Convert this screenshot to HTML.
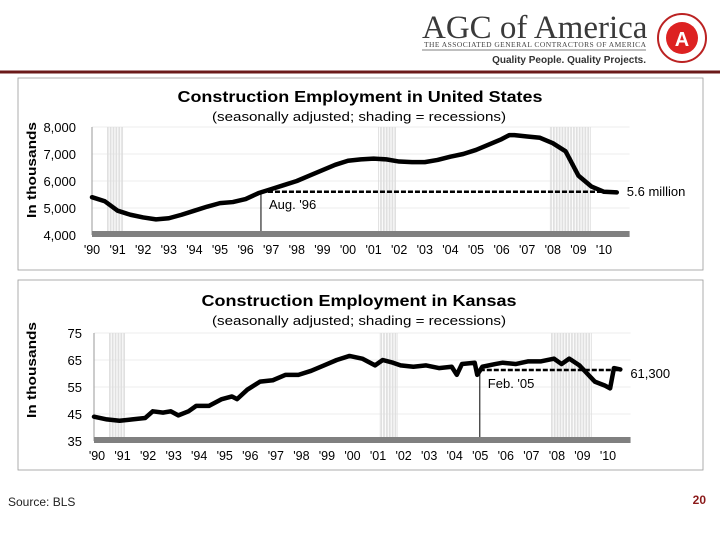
<!DOCTYPE html>
<html><head><meta charset="utf-8"><style>
body{margin:0;width:720px;height:540px;background:#fff;font-family:"Liberation Sans",sans-serif;overflow:hidden;position:relative}
svg{position:absolute;left:0;top:0}
</style></head><body>
<svg width="720" height="540">
<g>
<text x="422" y="38" font-family="Liberation Serif,serif" font-size="33" fill="#3a3a3a">AGC of America</text>
<text x="424" y="47" font-family="Liberation Serif,serif" font-size="7.5" fill="#444" textLength="222">THE ASSOCIATED GENERAL CONTRACTORS OF AMERICA</text>
<line x1="422" y1="50" x2="646" y2="50" stroke="#555" stroke-width="0.8"/>
<text x="646" y="63" text-anchor="end" font-size="10" font-weight="bold" fill="#333">Quality People. Quality Projects.</text>
<circle cx="682" cy="38" r="24" fill="#fff" stroke="#b22" stroke-width="2"/>
<circle cx="682" cy="38" r="16" fill="#d22"/>
<text x="682" y="46" text-anchor="middle" font-size="20" font-weight="bold" fill="#fff">A</text>
<line x1="0" y1="72" x2="720" y2="72" stroke="#6b1a1a" stroke-width="3"/>
</g>
<rect x="18" y="78" width="685" height="192" fill="none" stroke="#999" stroke-width="0.8"/>
<rect x="18" y="280" width="685" height="190" fill="none" stroke="#999" stroke-width="0.8"/>
<g id="us"></g>
<g id="ks"></g>
<text x="8" y="506" font-size="12" fill="#222">Source: BLS</text>
<text x="706" y="504" text-anchor="end" font-size="12" font-weight="bold" fill="#8b1a1a">20</text>
</svg>
<script>
const years=['\'90','\'91','\'92','\'93','\'94','\'95','\'96','\'97','\'98','\'99','\'00','\'01','\'02','\'03','\'04','\'05','\'06','\'07','\'08','\'09','\'10'];
const recessions=[[1990.6,1991.2],[2001.2,2001.9],[2007.9,2009.5]];
const usT=[1990,1990.5,1991,1991.5,1992,1992.5,1993,1993.5,1994,1994.5,1995,1995.5,1996,1996.5,1997,1997.5,1998,1998.5,1999,1999.5,2000,2000.5,2001,2001.5,2002,2002.5,2003,2003.5,2004,2004.5,2005,2005.5,2006,2006.3,2006.5,2007,2007.5,2008,2008.5,2009,2009.5,2010,2010.5];
const usV=[5400,5250,4900,4750,4650,4580,4620,4750,4900,5050,5180,5220,5330,5550,5700,5850,6000,6200,6400,6600,6750,6800,6830,6800,6720,6700,6700,6780,6900,7000,7150,7350,7550,7700,7700,7650,7600,7400,7100,6200,5800,5600,5580];
const usTicks=['8,000','7,000','6,000','5,000','4,000'];
const usTickVals=[8000,7000,6000,5000,4000];
const ksT=[1990,1990.5,1991,1991.5,1992,1992.3,1992.7,1993,1993.3,1993.7,1994,1994.5,1995,1995.4,1995.6,1996,1996.5,1997,1997.5,1998,1998.5,1999,1999.5,2000,2000.5,2001,2001.3,2001.7,2002,2002.5,2003,2003.5,2004,2004.2,2004.4,2004.9,2005,2005.2,2005.7,2006,2006.5,2007,2007.5,2008,2008.3,2008.6,2009,2009.3,2009.6,2010,2010.2,2010.35,2010.6];
const ksV=[44,43,42.5,43,43.5,46,45.5,46,44.5,46,48,48,50.5,51.5,50.5,54,57,57.5,59.5,59.5,61,63,65,66.5,65.5,63,65,64,63,62.5,63,62,62.5,59.5,63.5,64,59.5,62.5,63.5,64,63.5,64.5,64.5,65.5,63.5,65.5,63,60,57,55.5,54.5,62,61.5];
const ksTicks=['75','65','55','45','35'];
const ksTickVals=[75,65,55,45,35];
const NS='http://www.w3.org/2000/svg';
function mk(p,tag,a,txt){const e=document.createElementNS(NS,tag);for(const k in a)e.setAttribute(k,a[k]);if(txt!=null)e.textContent=txt;p.appendChild(e);return e;}
function chart(g,o){
  const x=t=>o.x0+(t-1990)*o.dx, y=v=>o.y0+(o.vmax-v)*o.py;
  let e=mk(g,'text',{x:o.cx,y:o.ty,'text-anchor':'middle','font-size':16,'font-weight':'bold',fill:'#000',textLength:o.tl,lengthAdjust:'spacingAndGlyphs'},o.title);
  
  
  e=mk(g,'text',{x:359,y:o.ty+19,'text-anchor':'middle','font-size':13,fill:'#000',textLength:294,lengthAdjust:'spacingAndGlyphs'},'(seasonally adjusted; shading = recessions)');
  
  
  e=mk(g,'text',{x:0,y:0,transform:`translate(${o.ylx},${o.yly}) rotate(-90)`,'text-anchor':'middle','font-size':13,'font-weight':'bold',fill:'#000',textLength:96,lengthAdjust:'spacingAndGlyphs'},'In thousands');
  
  
  const ybot=y(o.tickVals[o.tickVals.length-1]);
  recessions.forEach(r=>{for(let t=r[0];t<=r[1];t+=0.06){e=mk(g,'line',{x1:x(t),x2:x(t),y1:y(o.tickVals[0]),y2:ybot,stroke:'#ccc','stroke-width':0.6});
  
  }});
  o.tickVals.forEach((v,i)=>{
    if(i<o.tickVals.length-1){e=mk(g,'line',{x1:x(1990),x2:x(2011),y1:y(v),y2:y(v),stroke:'#ddd','stroke-width':0.6});
    
    }
    e=mk(g,'text',{x:o.tlx,y:y(v)+5,'text-anchor':'end','font-size':13,fill:'#000'},o.ticks[i]);
    
    
  });
  e=mk(g,'line',{x1:x(1990),x2:x(1990),y1:y(o.tickVals[0]),y2:ybot,stroke:'#999','stroke-width':1});
  
  
  e=mk(g,'rect',{x:x(1990),y:ybot-4,width:x(2011)-x(1990),height:6,fill:'#808080'});
  
  
  years.forEach((s,i)=>{e=mk(g,'text',{x:x(1990+i)+o.lo,y:ybot+19,'text-anchor':'middle','font-size':12.5,fill:'#000'},s);
  
  });
  e=mk(g,'line',{x1:x(o.refT),x2:x(o.refT),y1:y(o.refV),y2:ybot-4,stroke:'#000','stroke-width':1});
  
  
  e=mk(g,'line',{x1:x(o.refT),x2:x(o.T[o.T.length-1]),y1:y(o.refV),y2:y(o.refV),stroke:'#000','stroke-width':2.5,'stroke-dasharray':'5,2'});
  
  
  e=mk(g,'polyline',{points:o.T.map((t,i)=>x(t)+','+y(o.V[i])).join(' '),fill:'none',stroke:'#000','stroke-width':4.5,'stroke-linejoin':'round','stroke-linecap':'round'});
  
  
  e=mk(g,'text',{x:x(o.refT)+8,y:y(o.refV)+o.rly,'font-size':13,fill:'#000'},o.refLabel);
  
  
  e=mk(g,'text',{x:x(o.T[o.T.length-1])+10,y:y(o.refV)+o.ely,'font-size':13,fill:'#000'},o.endLabel);
  
  
}
chart(document.getElementById('us'),{x0:92,dx:25.6,y0:127,vmax:8000,py:0.027,T:usT,V:usV,ticks:usTicks,tickVals:usTickVals,tlx:76,lo:0,title:'Construction Employment in United States',tl:365,cx:360,ty:102,ylx:36,yly:170,refT:1996.6,refV:5600,refLabel:"Aug. '96",rly:17,endLabel:'5.6 million',ely:4});
chart(document.getElementById('ks'),{x0:94,dx:25.55,y0:333,vmax:75,py:2.7,T:ksT,V:ksV,ticks:ksTicks,tickVals:ksTickVals,tlx:82,lo:3,title:'Construction Employment in Kansas',tl:315,cx:359,ty:306,ylx:36,yly:370,refT:2005.1,refV:61.3,refLabel:"Feb. '05",rly:18,endLabel:'61,300',ely:8});
</script>
</body></html>
